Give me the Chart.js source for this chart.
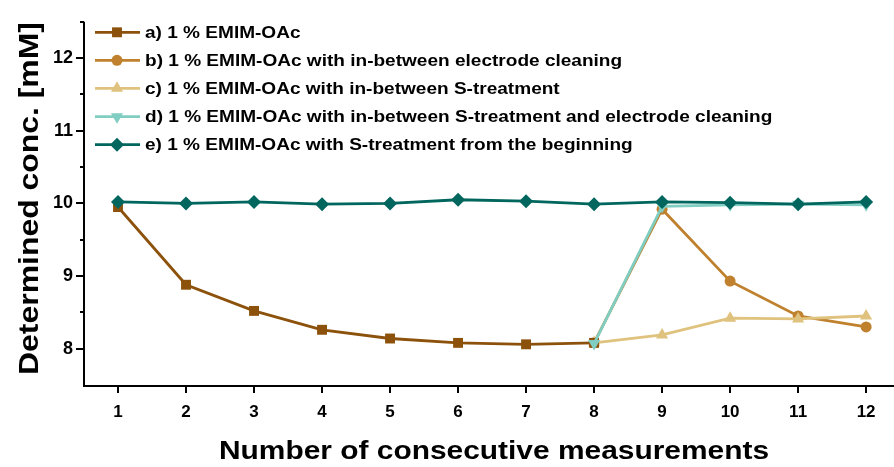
<!DOCTYPE html>
<html>
<head>
<meta charset="utf-8">
<script src="https://cdn.jsdelivr.net/npm/chart.js@4/dist/chart.umd.min.js"></script>
<style>
  html, body { margin: 0; padding: 0; background: #fff; overflow: hidden; }
  #wrap { width: 894px; height: 467px; position: relative; }
</style>
</head>
<body>
<div id="wrap"><canvas id="c" width="894" height="467"></canvas></div>
<script>
// ---- data ----
const categories = [1, 2, 3, 4, 5, 6, 7, 8, 9, 10, 11, 12];
const seriesA = [9.95, 8.88, 8.52, 8.26, 8.14, 8.08, 8.06, 8.08, null, null, null, null];
const seriesB = [null, null, null, null, null, null, null, 8.08, 9.92, 8.93, 8.45, 8.30];
const seriesC = [null, null, null, null, null, null, null, 8.08, 8.19, 8.42, 8.41, 8.45];
const seriesD = [null, null, null, null, null, null, null, 8.07, 9.96, 9.98, 9.99, 9.98];
const seriesE = [10.02, 10.00, 10.02, 9.99, 10.00, 10.05, 10.03, 9.99, 10.02, 10.01, 9.99, 10.02];
const seriesLabels = [
  'a) 1 % EMIM-OAc',
  'b) 1 % EMIM-OAc with in-between electrode cleaning',
  'c) 1 % EMIM-OAc with in-between S-treatment',
  'd) 1 % EMIM-OAc with in-between S-treatment and electrode cleaning',
  'e) 1 % EMIM-OAc with S-treatment from the beginning'
];
const yTicks = [8, 9, 10, 11, 12];
const xTicks = categories;
const xTitle = 'Number of consecutive measurements';
const yTitle = 'Determined conc. [mM]';

const FONT = '"Liberation Sans", Arial, Helvetica, sans-serif';

function pts(arr) {
  return categories.map((c, i) => ({ x: c, y: arr[i] }));
}

const styles = [
  { color: '#8c510a', pointStyle: 'rect', radius: 7, rotation: 0, order: 2 },
  { color: '#bf812d', pointStyle: 'circle', radius: 5.5, rotation: 0, order: 4 },
  { color: '#dfc27d', pointStyle: 'triangle', radius: 7, rotation: 0, order: 3 },
  { color: '#80cdc1', pointStyle: 'triangle', radius: 7, rotation: 180, order: 1 },
  { color: '#01665e', pointStyle: 'rectRot', radius: 7, rotation: 0, order: 0 }
];
const allSeries = [seriesA, seriesB, seriesC, seriesD, seriesE];

const datasets = allSeries.map((s, i) => ({
  label: seriesLabels[i],
  data: pts(s),
  borderColor: styles[i].color,
  backgroundColor: styles[i].color,
  pointBackgroundColor: styles[i].color,
  pointBorderColor: styles[i].color,
  pointBorderWidth: 0,
  pointStyle: styles[i].pointStyle,
  pointRadius: styles[i].radius,
  pointRotation: styles[i].rotation,
  borderWidth: 2.8,
  tension: 0,
  spanGaps: false,
  order: styles[i].order,
  clip: false
}));

function stretchedText(ctx, text, x, y, font, sx, align, rot) {
  ctx.save();
  ctx.translate(x, y);
  if (rot) ctx.rotate(rot);
  ctx.scale(sx, 1);
  ctx.font = font;
  ctx.fillStyle = '#000';
  ctx.textAlign = align;
  ctx.textBaseline = 'middle';
  ctx.fillText(text, 0, 0);
  ctx.restore();
}

const axisPlugin = {
  id: 'axisTicks',
  afterDraw(chart) {
    const ctx = chart.ctx;
    const xs = chart.scales.x, ys = chart.scales.y;
    const area = chart.chartArea;
    ctx.save();
    ctx.strokeStyle = '#000';
    ctx.lineWidth = 2;
    ctx.lineCap = 'butt';
    // axis lines
    ctx.beginPath();
    ctx.moveTo(area.left, area.top);
    ctx.lineTo(area.left, area.bottom + 1);
    ctx.lineTo(area.right, area.bottom + 1);
    ctx.stroke();
    // y ticks: majors and halves
    for (let v = ys.min + 0.5; v <= ys.max + 1e-9; v += 0.5) {
      const y = Math.round(ys.getPixelForValue(v));
      const major = Math.abs(v - Math.round(v)) < 1e-9;
      const len = major ? 8 : 4;
      ctx.beginPath();
      ctx.moveTo(area.left - len, y);
      ctx.lineTo(area.left, y);
      ctx.stroke();
    }
    // x ticks
    xTicks.forEach(v => {
      const x = Math.round(xs.getPixelForValue(v));
      ctx.beginPath();
      ctx.moveTo(x, area.bottom);
      ctx.lineTo(x, area.bottom + 8);
      ctx.stroke();
    });
    // axis titles
    stretchedText(ctx, xTitle, 494, 452, 'bold 26px ' + FONT, 1.15, 'center', 0);
    stretchedText(ctx, yTitle, 30, 198.5, 'bold 28px ' + FONT, 1.14, 'center', -Math.PI / 2);
    // legend
    const rowsY = [32.3, 60.3, 88.3, 116.7, 144.7];
    chart.data.datasets.forEach((ds, i) => {
      const y = rowsY[i];
      ctx.strokeStyle = ds.borderColor;
      ctx.lineWidth = 2.8;
      ctx.beginPath();
      ctx.moveTo(95, y);
      ctx.lineTo(140, y);
      ctx.stroke();
      ctx.fillStyle = ds.backgroundColor;
      Chart.helpers.drawPoint(ctx, {
        pointStyle: ds.pointStyle,
        radius: ds.pointRadius,
        rotation: ds.pointRotation,
        borderWidth: 0
      }, 117, y);
      stretchedText(ctx, ds.label, 145, y + 1, 'bold 17px ' + FONT, 1.12, 'left', 0);
    });
    ctx.restore();
  }
};

new Chart(document.getElementById('c'), {
  type: 'line',
  data: { datasets },
  options: {
    responsive: false,
    animation: false,
    layout: { autoPadding: false, padding: { top: 15, left: 0, right: 0, bottom: 0 } },
    plugins: { legend: { display: false }, tooltip: { enabled: false } },
    scales: {
      x: {
        type: 'linear',
        min: 0.5,
        max: 12.41,
        afterFit(s) { s.height = 82; },
        afterBuildTicks(s) { s.ticks = xTicks.map(v => ({ value: v })); },
        grid: { display: false, drawTicks: false },
        border: { display: false },
        ticks: {
          color: '#000',
          padding: 17,
          maxRotation: 0,
          font: { family: FONT, size: 17, weight: 'bold' },
          callback: v => String(v)
        }
      },
      y: {
        type: 'linear',
        min: 7.5,
        max: 12.5,
        afterFit(s) { s.width = 84; },
        afterBuildTicks(s) { s.ticks = yTicks.map(v => ({ value: v })); },
        grid: { display: false, drawTicks: false },
        border: { display: false },
        ticks: {
          color: '#000',
          padding: 11,
          font: { family: FONT, size: 18, weight: 'bold' },
          callback: v => String(v)
        }
      }
    }
  },
  plugins: [axisPlugin]
});
</script>
</body>
</html>
